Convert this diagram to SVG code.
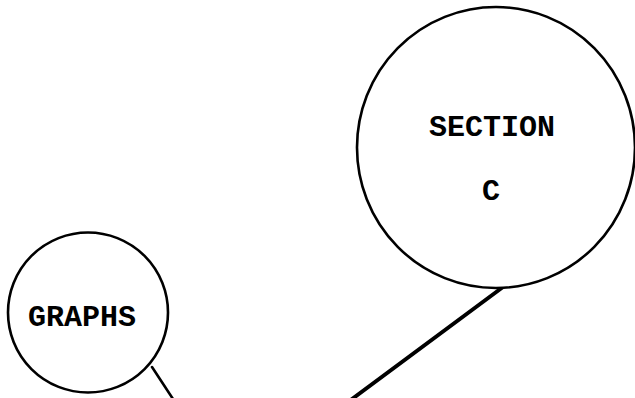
<svg xmlns="http://www.w3.org/2000/svg" width="635" height="398" viewBox="0 0 635 398">
<style>
.node{fill:#fff;stroke:#000;stroke-width:2.6}
.lbl{font-family:"Liberation Mono","Courier New",monospace;font-weight:bold;font-size:30px;fill:#000;text-anchor:middle}
.conn{stroke:#000;fill:none;stroke-linecap:round}
</style>
<rect width="635" height="398" fill="#fff"/>
<g id="connectors">
<line class="conn" x1="152" y1="367" x2="173" y2="399" stroke-width="2.6"/>
<line class="conn" x1="503" y1="287" x2="352" y2="399" stroke-width="4"/>
</g>
<g id="section-c">
<ellipse class="node" cx="496" cy="147.5" rx="139" ry="140.5"/>
<text class="lbl" x="492" y="136">SECTION</text>
<text class="lbl" x="491" y="200">C</text>
</g>
<g id="graphs">
<circle class="node" cx="88" cy="312.5" r="80"/>
<text class="lbl" x="82" y="326">GRAPHS</text>
</g>
</svg>
